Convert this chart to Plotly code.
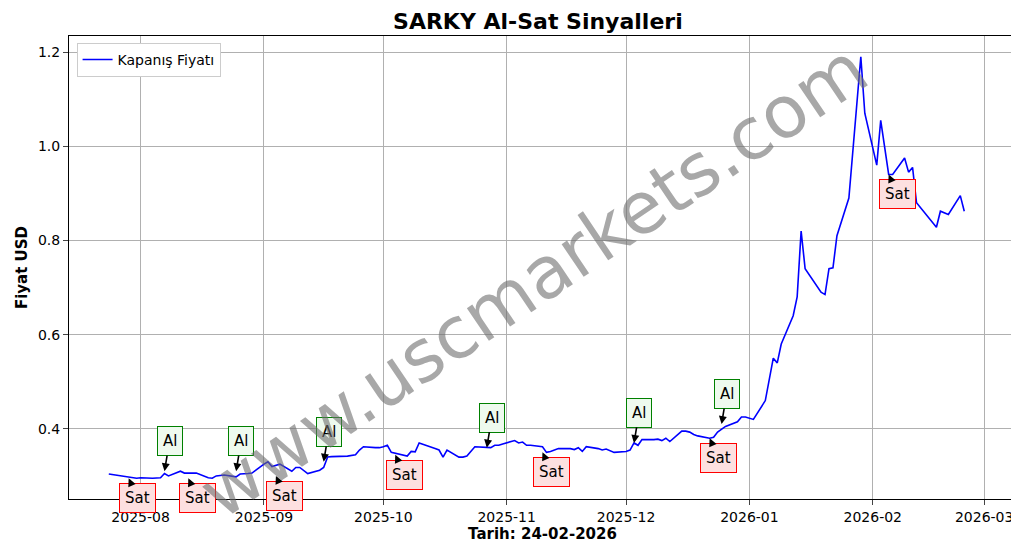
import plotly.graph_objects as go

dates = ["2025-07-24","2025-07-28","2025-07-31","2025-08-01","2025-08-04","2025-08-06","2025-08-07","2025-08-08","2025-08-11","2025-08-12","2025-08-14","2025-08-15","2025-08-18","2025-08-19","2025-08-20","2025-08-22","2025-08-25","2025-08-26","2025-08-28","2025-08-29",
"2025-09-01","2025-09-02","2025-09-03","2025-09-04","2025-09-05","2025-09-08","2025-09-09","2025-09-10","2025-09-11","2025-09-12","2025-09-15","2025-09-16","2025-09-17","2025-09-18","2025-09-22","2025-09-24","2025-09-25","2025-09-26","2025-09-29","2025-09-30",
"2025-10-01","2025-10-02","2025-10-03","2025-10-06","2025-10-07","2025-10-08","2025-10-09","2025-10-10","2025-10-13","2025-10-14","2025-10-15","2025-10-16","2025-10-17","2025-10-20","2025-10-21","2025-10-22","2025-10-24","2025-10-27","2025-10-28","2025-10-29","2025-10-30","2025-10-31",
"2025-11-03","2025-11-04","2025-11-05","2025-11-06","2025-11-07","2025-11-10","2025-11-11","2025-11-12","2025-11-13","2025-11-14","2025-11-17","2025-11-18","2025-11-19","2025-11-20","2025-11-21","2025-11-24","2025-11-25","2025-11-26","2025-11-28",
"2025-12-01","2025-12-02","2025-12-03","2025-12-04","2025-12-05","2025-12-08","2025-12-09","2025-12-10","2025-12-11","2025-12-12","2025-12-15","2025-12-16","2025-12-17","2025-12-18","2025-12-19","2025-12-22","2025-12-23","2025-12-24","2025-12-26","2025-12-29","2025-12-30","2025-12-31",
"2026-01-02","2026-01-05","2026-01-07","2026-01-08","2026-01-09","2026-01-12","2026-01-13","2026-01-14","2026-01-15","2026-01-19","2026-01-20","2026-01-21","2026-01-22","2026-01-23","2026-01-26","2026-01-29","2026-01-30",
"2026-02-02","2026-02-03","2026-02-05","2026-02-06","2026-02-09","2026-02-10","2026-02-11","2026-02-12","2026-02-17","2026-02-18","2026-02-20","2026-02-23","2026-02-24"]
prices = [0.304,0.298,0.295,0.296,0.295,0.296,0.305,0.300,0.310,0.306,0.306,0.306,0.296,0.295,0.300,0.302,0.298,0.304,0.305,0.306,
0.325,0.330,0.320,0.323,0.325,0.310,0.318,0.318,0.312,0.305,0.312,0.318,0.340,0.341,0.342,0.345,0.355,0.362,0.360,0.360,
0.362,0.365,0.350,0.345,0.342,0.352,0.351,0.370,0.362,0.358,0.355,0.340,0.355,0.340,0.340,0.342,0.362,0.360,0.360,0.365,0.365,0.368,
0.375,0.370,0.372,0.365,0.365,0.362,0.350,0.352,0.355,0.358,0.358,0.356,0.360,0.352,0.362,0.358,0.355,0.357,0.350,
0.352,0.355,0.370,0.365,0.377,0.377,0.378,0.375,0.380,0.373,0.395,0.395,0.393,0.388,0.385,0.380,0.382,0.393,0.405,0.415,0.425,0.425,
0.420,0.460,0.550,0.540,0.580,0.640,0.680,0.820,0.740,0.690,0.685,0.740,0.742,0.810,0.890,1.190,1.070,
0.960,1.055,0.940,0.940,0.975,0.945,0.955,0.880,0.828,0.862,0.855,0.895,0.862]

sig_dates = ["2025-07-29","2025-08-07","2025-08-13","2025-08-25","2025-09-04","2025-09-16","2025-10-04","2025-10-27","2025-11-10","2025-12-03","2025-12-22","2025-12-25","2026-02-05"]
sig_prices = [0.295,0.31,0.295,0.31,0.30,0.33,0.345,0.36,0.35,0.37,0.38,0.41,0.94]
sig_types = ["Sat","Al","Sat","Al","Sat","Al","Sat","Al","Sat","Al","Sat","Al","Sat"]

fig = go.Figure()
fig.add_trace(go.Scatter(x=dates, y=prices, mode="lines", line=dict(color="blue", width=1.6), name="Kapanış Fiyatı"))

for d, p, t in zip(sig_dates, sig_prices, sig_types):
    al = t == "Al"
    fig.add_annotation(x=d, y=p, text=t, showarrow=True, arrowhead=2, arrowsize=1, arrowwidth=1.6,
                       arrowcolor="black", ax=5 if al else 9, ay=-30 if al else 20,
                       font=dict(size=15, color="black"),
                       bgcolor="#eefaee" if al else "#fde0e0", bordercolor="green" if al else "red",
                       borderwidth=1, borderpad=5)

fig.add_annotation(x=0.49, y=0.47, xref="paper", yref="paper", text="www.uscmarkets.com", showarrow=False,
                   textangle=-34, font=dict(size=72, color="rgba(110,110,110,0.6)", family="DejaVu Sans"))

fig.update_layout(
    width=1019, height=554, plot_bgcolor="white", paper_bgcolor="white",
    margin=dict(l=61, r=11, t=28, b=63),
    font=dict(family="DejaVu Sans", size=14, color="black"),
    title=dict(text="<b>SARKY Al-Sat Sinyalleri</b>", x=0.52, y=0.99, yanchor="top", font=dict(size=22)),
    legend=dict(x=0.008, y=0.985, bordercolor="#ccc", borderwidth=1, bgcolor="white", font=dict(size=14)),
    showlegend=True,
)
fig.update_xaxes(range=["2025-07-14","2026-03-09"], showgrid=True, gridcolor="#b0b0b0", showline=True, linecolor="black",
                 mirror=True, ticks="outside", tickformat="%Y-%m", dtick="M1", tick0="2025-08-01", automargin=False,
                 tickfont=dict(size=14), title=dict(text="<b>Tarih: 24-02-2026</b>", standoff=2, font=dict(size=15)))
fig.update_yaxes(range=[0.251, 1.234], showgrid=True, gridcolor="#b0b0b0", showline=True, linecolor="black",
                 mirror=True, ticks="outside", tickvals=[0.4,0.6,0.8,1.0,1.2], tickformat=".1f", automargin=False,
                 tickfont=dict(size=14), title=dict(text="<b>Fiyat USD</b>", standoff=6, font=dict(size=15)))
fig.write_html("out.html")
